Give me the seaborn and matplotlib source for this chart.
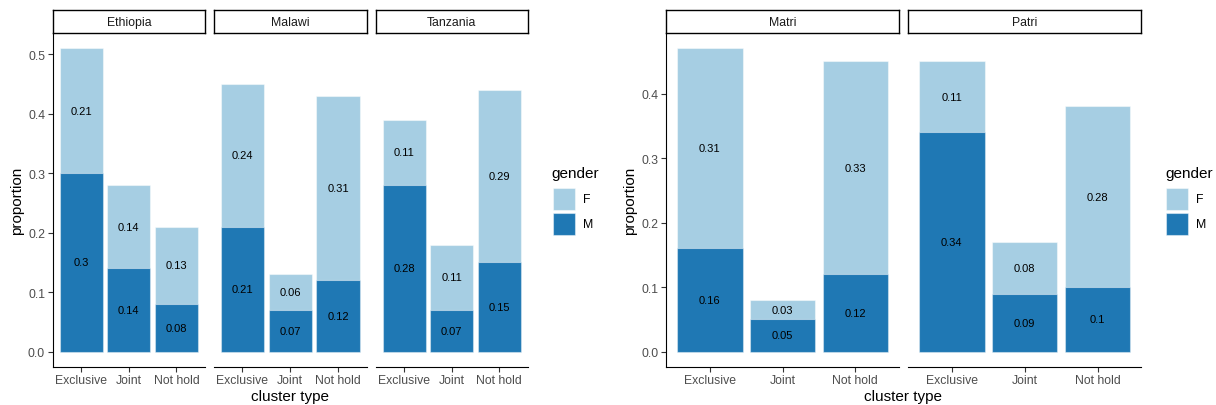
import matplotlib
matplotlib.use("Agg")
import matplotlib.pyplot as plt
from matplotlib.patches import Rectangle
import numpy as np
import pandas as pd
import seaborn as sns

# ---- data -------------------------------------------------------------
cluster_types = ["Exclusive", "Joint", "Not hold"]

countries = ["Ethiopia", "Malawi", "Tanzania"]
country_m = [[0.30, 0.14, 0.08], [0.21, 0.07, 0.12], [0.28, 0.07, 0.15]]
country_f = [[0.21, 0.14, 0.13], [0.24, 0.06, 0.31], [0.11, 0.11, 0.29]]

descent = ["Matri", "Patri"]
descent_m = [[0.16, 0.05, 0.12], [0.34, 0.09, 0.10]]
descent_f = [[0.31, 0.03, 0.33], [0.11, 0.08, 0.28]]

genders = ["F", "M"]
COL_F = "#A6CEE3"
COL_M = "#1F78B4"

sns.set_theme(style="white")
plt.rcParams["font.family"] = ["Liberation Sans", "DejaVu Sans"]

W, H = 1216, 406
fig = plt.figure(figsize=(W / 100, H / 100), dpi=100)


def long_frame(groups, m_vals, f_vals):
    rows = []
    for g, ms, fs in zip(groups, m_vals, f_vals):
        for c, m, f in zip(cluster_types, ms, fs):
            rows.append({"group": g, "cluster": c, "M": m, "F": f, "total": m + f})
    return pd.DataFrame(rows)


def px_axes(x0, x1, y0, y1):
    return fig.add_axes([x0 / W, 1 - y1 / H, (x1 - x0) / W, (y1 - y0) / H])


def draw_facets(df, groups, xs, ymax_all, yticks, first_left):
    axes = []
    for k, (g, (x0, x1)) in enumerate(zip(groups, xs)):
        ax = px_axes(x0, x1, 34.3, 367.7)
        sub = df[df["group"] == g]
        # stacked bars: full height in F colour, M portion over it
        sns.barplot(data=sub, x="cluster", y="total", order=cluster_types,
                    color=COL_F, saturation=1, width=0.9,
                    edgecolor=(1, 1, 1, 0.45), linewidth=0.8, ax=ax)
        sns.barplot(data=sub, x="cluster", y="M", order=cluster_types,
                    color=COL_M, saturation=1, width=0.9,
                    edgecolor=(1, 1, 1, 0.45), linewidth=0.8, ax=ax)
        for i, (_, r) in enumerate(sub.iterrows()):
            ax.text(i, r["M"] / 2, f"{r['M']:g}", ha="center", va="center",
                    fontsize=8, color="black")
            ax.text(i, r["M"] + r["F"] / 2, f"{r['F']:g}", ha="center",
                    va="center", fontsize=8, color="black")
        ax.set_xlim(-0.6, 2.6)
        ax.set_ylim(-0.05 * ymax_all, 1.05 * ymax_all)
        ax.set_xlabel("")
        ax.set_ylabel("")
        ax.set_facecolor("none")
        for s in ["top", "right"]:
            ax.spines[s].set_visible(False)
        ax.spines["bottom"].set_color("black")
        ax.spines["bottom"].set_linewidth(0.8)
        ax.tick_params(axis="x", length=3.5, width=0.8, color="#333333",
                       labelsize=8.8, labelcolor="#4D4D4D", pad=2,
                       bottom=True)
        if k == 0:
            ax.spines["left"].set_color("black")
            ax.spines["left"].set_linewidth(0.8)
            ax.set_yticks(yticks)
            ax.set_yticklabels([f"{t:.1f}" for t in yticks])
            ax.tick_params(axis="y", length=3.5, width=0.8, color="#333333",
                           labelsize=8.8, labelcolor="#4D4D4D", pad=2,
                           left=True)
        else:
            ax.spines["left"].set_visible(False)
            ax.set_yticks(yticks)
            ax.tick_params(axis="y", left=False, labelleft=False)
        # facet strip
        sax = px_axes(x0, x1, 11, 34.3)
        sax.set_xticks([])
        sax.set_yticks([])
        sax.set_facecolor("white")
        for s in sax.spines.values():
            s.set_visible(True)
            s.set_color("black")
            s.set_linewidth(1.0)
        sax.text(0.5, 0.5, g, ha="center", va="center", fontsize=8.8,
                 color="#1A1A1A", transform=sax.transAxes)
        axes.append(ax)
    return axes


def draw_legend(x_left):
    fig.text((x_left) / W, 1 - 174 / H, "gender", ha="left", va="center",
             fontsize=11, color="black")
    for lab, col, (y0, y1) in zip(genders, [COL_F, COL_M],
                                  [(189, 211), (213.7, 235.7)]):
        fig.add_artist(Rectangle(((x_left + 1) / W, 1 - y1 / H), 22.4 / W,
                                 (y1 - y0) / H, transform=fig.transFigure,
                                 facecolor=col, edgecolor=(1, 1, 1, 0.45),
                                 linewidth=0.8))
        fig.text((x_left + 31) / W, 1 - (y0 + y1) / 2 / H, lab, ha="left",
                 va="center", fontsize=8.8, color="black")


# ---- left: by country ------------------------------------------------
df_c = long_frame(countries, country_m, country_f)
draw_facets(df_c, countries,
            [(52.7, 205), (213.7, 366.7), (375.7, 527.7)],
            df_c["total"].max(), [0.0, 0.1, 0.2, 0.3, 0.4, 0.5], True)
fig.text(17 / W, 1 - 201 / H, "proportion", rotation=90, ha="center",
         va="center", fontsize=11, color="black")
fig.text(290 / W, 1 - 397 / H, "cluster type", ha="center", va="center",
         fontsize=11, color="black")
draw_legend(551.5)

# ---- right: by descent system ---------------------------------------
df_d = long_frame(descent, descent_m, descent_f)
draw_facets(df_d, descent, [(666.3, 899), (908, 1141.3)],
            df_d["total"].max(), [0.0, 0.1, 0.2, 0.3, 0.4], True)
fig.text(630 / W, 1 - 201 / H, "proportion", rotation=90, ha="center",
         va="center", fontsize=11, color="black")
fig.text(903 / W, 1 - 397 / H, "cluster type", ha="center", va="center",
         fontsize=11, color="black")
draw_legend(1165)

fig.savefig("out.png", dpi=100, facecolor="white")
